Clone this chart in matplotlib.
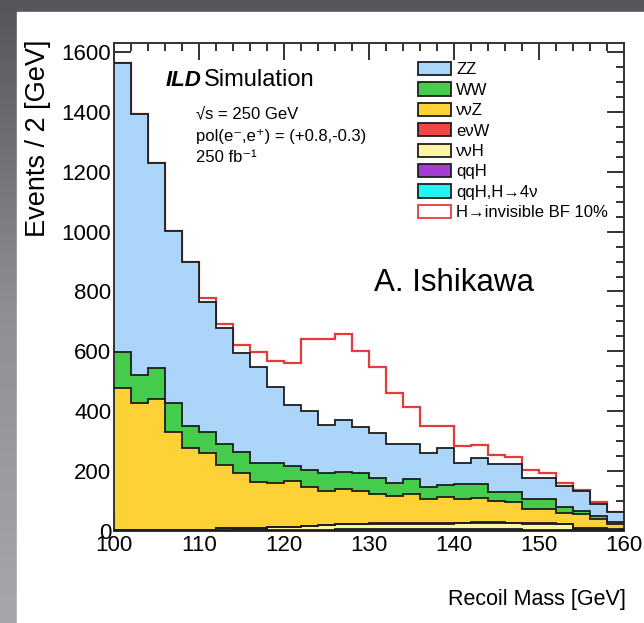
import numpy as np
import matplotlib
matplotlib.use('Agg')
import matplotlib.pyplot as plt
from matplotlib.patches import Patch, Rectangle
from matplotlib.colors import LinearSegmentedColormap
from matplotlib.ticker import MultipleLocator

# recoil mass bins, 2 GeV wide
edges = np.arange(100, 162, 2)

# stacked background contributions (events / 2 GeV), bottom to top
qqH_4v = [1, 1, 1, 1, 1, 1, 1, 1, 1, 1, 1, 1, 1, 1, 1, 1, 1, 1, 1, 1, 1, 1, 1, 1, 1, 1, 1, 1, 1, 1]
qqH = [2, 2, 2, 2, 2, 2, 2, 7, 7, 3, 3, 4, 4, 5, 5, 5, 6, 6, 5, 5, 5, 6, 5, 5, 4, 4, 4, 3, 3, 2]
vvH = [0, 0, 0, 0, 0, 1, 6, 2, 2, 9, 10, 12, 14, 16, 17, 18, 18, 17, 19, 19, 20, 20, 21, 20, 19, 19, 18, 4, 3, 2]
evW = [1, 1, 1, 1, 1, 1, 1, 1, 1, 1, 1, 1, 2, 2, 2, 2, 2, 2, 2, 2, 2, 2, 2, 2, 2, 2, 2, 3, 3, 2]
vvZ = [473, 423, 436, 328, 272, 255, 210, 184, 154, 147, 153, 130, 114, 116, 109, 98, 90, 97, 80, 86,
       78, 80, 72, 70, 46, 46, 36, 46, 29, 16]
WW = [122, 94, 103, 95, 75, 72, 70, 70, 63, 67, 49, 56, 58, 58, 61, 54, 44, 50, 41, 41,
      50, 47, 30, 33, 34, 34, 18, 11, 11, 8]
ZZ = [965, 872, 687, 576, 548, 434, 387, 328, 321, 254, 204, 198, 161, 173, 153, 148, 129, 117, 112, 124,
      72, 89, 93, 93, 72, 72, 71, 66, 39, 33]
# H -> invisible (BF 10%) signal, drawn on top of the stack
sig = [0, 0, 0, 0, 0, 11, 14, 28, 50, 87, 141, 239, 287, 286, 254, 223, 170, 123, 91, 73,
       56, 42, 30, 22, 26, 15, 11, 3, 9, 0]

stack = [
    ('qqH,H\u21924\u03bd', qqH_4v, '#22f4f4'),
    ('qqH', qqH, '#a23fd2'),
    ('\u03bd\u03bdH', vvH, '#fff6a3'),
    ('e\u03bdW', evW, '#f44444'),
    ('\u03bd\u03bdZ', vvZ, '#fed236'),
    ('WW', WW, '#46cc4c'),
    ('ZZ', ZZ, '#abd6fa'),
]
legend_order = ['ZZ', 'WW', '\u03bd\u03bdZ', 'e\u03bdW', '\u03bd\u03bdH', 'qqH', 'qqH,H\u21924\u03bd']

W, H = 644, 623
font = ['Liberation Sans', 'DejaVu Sans']


def fx(x):
    return x / W


def fy(y):
    return 1 - y / H


fig = plt.figure(figsize=(W / 100, H / 100), dpi=100)

# grey slide border + white page
bg = fig.add_axes([0, 0, 1, 1])
bg.axis('off')
grad = np.linspace(0, 1, 256).reshape(-1, 1)
cm = LinearSegmentedColormap.from_list('g', ['#55565b', '#8e8f94', '#a6a7ab'])
bg.imshow(grad, cmap=cm, aspect='auto', extent=[0, 1, 0, 1])
bg.add_patch(Rectangle((fx(17), 0), 1, fy(12), transform=bg.transAxes, color='white'))
bg.set_xlim(0, 1)
bg.set_ylim(0, 1)

ax = fig.add_axes([fx(114), 1 - 531 / H, 510 / W, 488 / H])

# signal outline sits under the stack
total = np.zeros(len(ZZ))
for name, vals, col in stack:
    total = total + np.array(vals)
ax.stairs(total + np.array(sig), edges, baseline=None, color='#e53a3a', lw=1.6, zorder=1.5)

bottom = np.zeros(len(ZZ))
handles = {}
for name, vals, col in stack:
    top = bottom + np.array(vals)
    ax.stairs(top, edges, baseline=bottom, fill=True, facecolor=col, edgecolor='none', zorder=2)
    ax.stairs(top, edges, baseline=None, color='#1e1e1e', lw=1.3, zorder=3)
    handles[name] = Patch(facecolor=col, edgecolor='#1e1e1e', lw=1.3)
    bottom = top

ax.set_xlim(100, 160)
ax.set_ylim(0, 1630)
ax.xaxis.set_major_locator(MultipleLocator(10))
ax.xaxis.set_minor_locator(MultipleLocator(2))
ax.yaxis.set_major_locator(MultipleLocator(200))
ax.yaxis.set_minor_locator(MultipleLocator(50))
ax.tick_params(which='both', direction='in', top=True, right=True, color='#222', width=1.3)
ax.tick_params(which='major', length=12, labelsize=16, pad=3)
ax.tick_params(axis='y', which='major', pad=2)
ax.tick_params(which='minor', length=6)
for lab in ax.get_xticklabels() + ax.get_yticklabels():
    lab.set_family(font)
for sp in ax.spines.values():
    sp.set_linewidth(1.4)
    sp.set_color('#333333')

leg_handles = [handles[n] for n in legend_order]
leg_handles.append(Patch(facecolor='white', edgecolor='#e53a3a', lw=1.3))
leg_labels = legend_order + ['H\u2192invisible BF 10%']
ax.legend(leg_handles, leg_labels, loc='upper left', bbox_to_anchor=(0.583, 0.975),
          frameon=False, handlelength=2.0, handleheight=0.85, labelspacing=0.3,
          handletextpad=0.3, borderaxespad=0, prop={'family': font, 'size': 12})

# labels and annotations
fig.text(fx(38), fy(40), 'Events / 2 [GeV]', rotation=90, ha='center', va='top',
         family=font, fontsize=19.5)
fig.text(fx(626), fy(600), 'Recoil Mass [GeV]', ha='right', va='center',
         family=font, fontsize=15.5)
fig.text(fx(166), fy(80), 'ILD', ha='left', va='center', family=font,
         fontsize=16, fontweight='bold', fontstyle='italic')
fig.text(fx(204), fy(80), 'Simulation', ha='left', va='center', family=font, fontsize=17)
fig.text(fx(196), fy(114), '\u221as = 250 GeV', ha='left', va='center', family=font, fontsize=12)
fig.text(fx(196), fy(136), 'pol(e\u207b,e\u207a) = (+0.8,-0.3)', ha='left', va='center',
         family=font, fontsize=12)
fig.text(fx(196), fy(158), '250 fb\u207b\u00b9', ha='left', va='center', family=font, fontsize=12)
fig.text(fx(374), fy(283), 'A. Ishikawa', ha='left', va='center', family=font, fontsize=22.5)

fig.savefig('out.png', dpi=100)
